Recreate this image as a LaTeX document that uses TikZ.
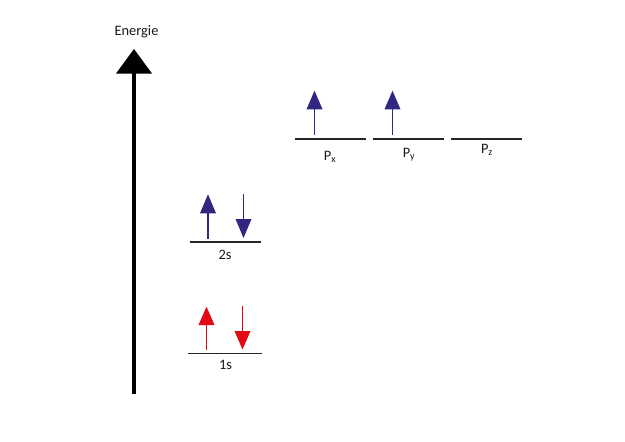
\documentclass[tikz,border=0pt]{standalone}
\usepackage{fontspec}
\setmainfont{Carlito}
\definecolor{indigoarrow}{HTML}{312783}
\definecolor{redarrow}{HTML}{E30613}
\newcommand{\spinup}[5]{% name, x, tip y, base y, bottom y
  \coordinate (#1t) at (#2,#3);
  \coordinate (#1b) at (#2,#5);
  \fill (#2-8,#4) -- (#1t) -- (#2+8,#4) -- cycle;
  \draw[shaft] (#2,#4) -- (#1b);}
\newcommand{\spindown}[5]{% name, x, top y, base y, tip y
  \coordinate (#1t) at (#2,#3);
  \coordinate (#1b) at (#2,#5);
  \fill (#2-8,#4) -- (#1b) -- (#2+8,#4) -- cycle;
  \draw[shaft] (#1t) -- (#2,#4);}
\tikzset{
  shaft/.style={line width=1.7pt},
  level/.style={line width=1.8pt,black!85},
  lab/.style={font=\fontsize{14.4}{16}\selectfont,text=black!90,inner sep=0pt},
  axis/.style={line width=3.6pt,black}
}
\begin{document}
\begin{tikzpicture}[x=1pt,y=-1pt]
\useasboundingbox (0,0) rectangle (625,442);
\fill[white] (0,0) rectangle (625,442);
% energy axis
\node[lab] (energie) at (136.5,32) {Energie};
\coordinate (axbot) at (134,393.5);
\coordinate (axtop) at (134,72);
\coordinate (axtip) at (134,49);
\draw[axis] (axbot) -- (axtop);
\fill (116,73.5) -- (axtip) -- (152,73.5) -- cycle;
% levels
\draw[level] (295,139) coordinate (xa) -- (366,139) coordinate (xb);
\draw[level] (373,139) coordinate (ya) -- (444,139) coordinate (yb);
\draw[level] (451,139) coordinate (za) -- (522,139) coordinate (zb);
\draw[level] (189.5,242) coordinate (sa) -- (260.5,242) coordinate (sb);
\draw[level] (188,353.5) coordinate (oa) -- (262,353.5) coordinate (ob);
% labels
\node[lab] (px) at (330,157) {P\textsubscript{x}};
\node[lab] (py) at (409,154.5) {P\textsubscript{y}};
\node[lab] (pz) at (487,149.5) {P\textsubscript{z}};
\node[lab] (twos) at (225,254.5) {2s};
\node[lab] (ones) at (225.5,364.5) {1s};
% spins
\begin{scope}[indigoarrow]
\spinup{pxs}{314.5}{90.7}{109.3}{134.5}
\spinup{pys}{392.5}{90.7}{109.3}{134.5}
\spinup{su}{208}{194.3}{213.3}{238.5}
\spindown{sd}{243.5}{194}{219}{238}
\end{scope}
\begin{scope}[redarrow]
\spinup{ou}{206.5}{306.7}{325}{350}
\spindown{od}{242.5}{306}{331}{349.5}
\end{scope}
\end{tikzpicture}
\end{document}
